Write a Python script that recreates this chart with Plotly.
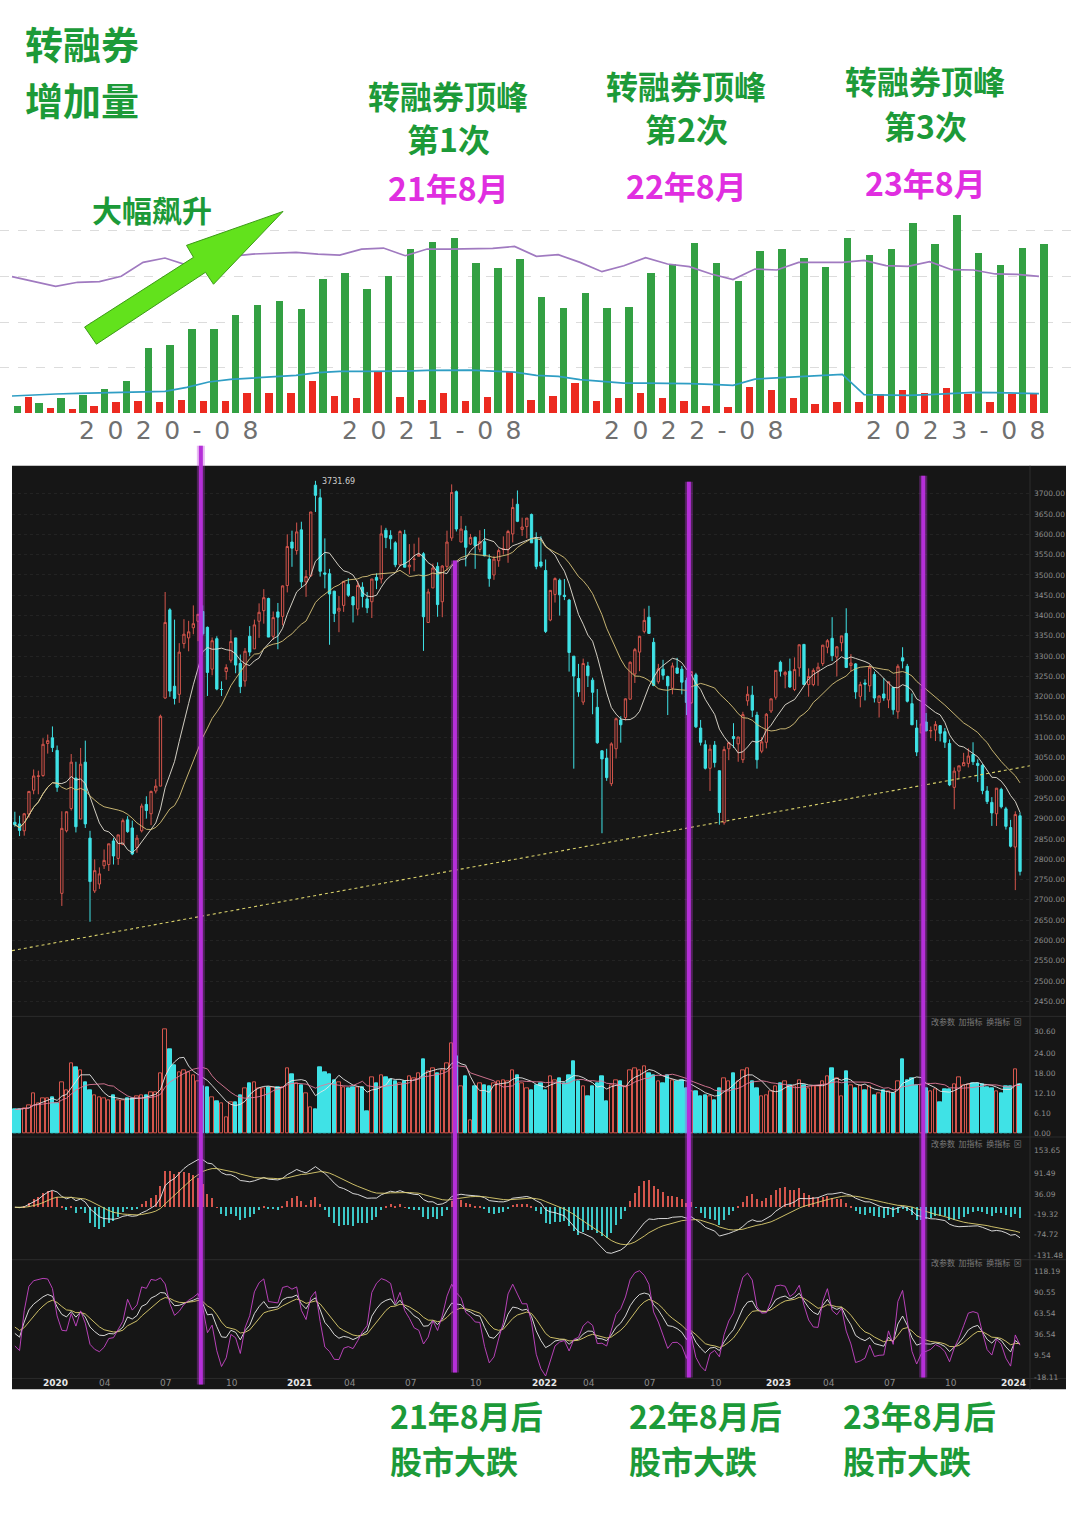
import numpy as np
import pandas as pd
import plotly.graph_objects as go

W, H = 1080, 1535

# ======================= top panel: monthly data (2020-01 .. 2023-12) =======================
top_months = [f"{y}-{m:02d}" for y in (2020, 2021, 2022, 2023) for m in range(1, 13)]
green_vals = [16.7, 21.8, 34.2, 40.0, 53.1, 70.5, 141.8, 149.1, 183.3, 183.3, 214.5, 236.4,
              245.8, 227.6, 292.4, 306.9, 271.3, 300.4, 358.5, 374.5, 384.0, 329.5, 317.8, 336.7,
              253.1, 230.5, 263.3, 229.1, 231.3, 306.9, 325.8, 373.1, 328.7, 288.7, 354.9, 360.0,
              340.4, 320.0, 383.3, 345.5, 360.0, 416.0, 370.9, 434.2, 351.3, 323.6, 361.5, 370.9]
red_vals = [None, 34.9, 10.9, 8.7, 16.0, 23.3, 26.9, 23.3, 29.1, 25.5, 26.9, 43.6,
            45.1, 45.1, 70.5, 38.5, 34.2, 93.1, 36.4, 29.1, 43.6, 26.9, 34.9, 90.9,
            29.1, 38.5, 66.9, 27.6, 32.7, 43.6, 32.7, 26.9, 16.7, 13.1, 58.2, 50.2,
            32.7, 20.4, 23.3, 23.3, 42.2, 50.9, 43.6, 54.5, 41.5, 24.0, 42.2, 42.2]
purple_vals = [299.6, 288.7, 278.5, 287.3, 288.7, 300.4, 330.9, 340.4, 325.1, 334.5, 344.0, 349.1,
               350.5, 352.7, 349.1, 346.9, 360.0, 362.2, 345.5, 360.0, 360.0, 360.0, 361.5, 365.8,
               344.0, 347.6, 330.9, 310.5, 323.6, 341.1, 327.3, 321.5, 305.5, 293.1, 316.4, 314.2,
               330.9, 330.9, 330.9, 335.3, 323.6, 322.2, 332.4, 314.9, 314.2, 305.5, 304.7, 300.4]
blue_vals = [38.5, 41.5, 42.9, 44.4, 45.1, 45.8, 47.3, 48.7, 57.5, 69.1, 74.9, 77.8,
             79.3, 83.6, 89.5, 92.4, 92.4, 92.4, 93.1, 94.5, 95.3, 95.3, 93.1, 90.9,
             83.6, 81.5, 74.2, 70.5, 66.9, 66.9, 66.9, 65.5, 64.0, 61.8, 75.6, 78.5,
             81.5, 83.6, 85.8, 41.5, 40.0, 40.0, 41.5, 43.6, 46.5, 45.8, 45.1, 43.6]
top_tick_labels = ["2020-08", "2021-08", "2022-08", "2023-08"]

# ======================= weekly K-line (SSE Composite) =======================
week_start = [
    "2019-11-18", "2019-11-25", "2019-12-02", "2019-12-09", "2019-12-16", "2019-12-23", "2019-12-30",
    "2020-01-06", "2020-01-13", "2020-01-20", "2020-02-03", "2020-02-10", "2020-02-17", "2020-02-24",
    "2020-03-02", "2020-03-09", "2020-03-16", "2020-03-23", "2020-03-30", "2020-04-06", "2020-04-13",
    "2020-04-20", "2020-04-27", "2020-05-04", "2020-05-11", "2020-05-18", "2020-05-25", "2020-06-01",
    "2020-06-08", "2020-06-15", "2020-06-22", "2020-06-29", "2020-07-06", "2020-07-13", "2020-07-20",
    "2020-07-27", "2020-08-03", "2020-08-10", "2020-08-17", "2020-08-24", "2020-08-31", "2020-09-07",
    "2020-09-14", "2020-09-21", "2020-09-28", "2020-10-05", "2020-10-12", "2020-10-19", "2020-10-26",
    "2020-11-02", "2020-11-09", "2020-11-16", "2020-11-23", "2020-11-30", "2020-12-07", "2020-12-14",
    "2020-12-21", "2020-12-28",
    "2021-01-04", "2021-01-11", "2021-01-18", "2021-01-25", "2021-02-01", "2021-02-08", "2021-02-15",
    "2021-02-22", "2021-03-01", "2021-03-08", "2021-03-15", "2021-03-22", "2021-03-29", "2021-04-05",
    "2021-04-12", "2021-04-19", "2021-04-26", "2021-05-03", "2021-05-10", "2021-05-17", "2021-05-24",
    "2021-05-31", "2021-06-07", "2021-06-14", "2021-06-21", "2021-06-28", "2021-07-05", "2021-07-12",
    "2021-07-19", "2021-07-26", "2021-08-02", "2021-08-09", "2021-08-16", "2021-08-23", "2021-08-30",
    "2021-09-06", "2021-09-13", "2021-09-20", "2021-09-27", "2021-10-04", "2021-10-11", "2021-10-18",
    "2021-10-25", "2021-11-01", "2021-11-08", "2021-11-15", "2021-11-22", "2021-11-29", "2021-12-06",
    "2021-12-13", "2021-12-20", "2021-12-27",
    "2022-01-03", "2022-01-10", "2022-01-17", "2022-01-24", "2022-02-07", "2022-02-14", "2022-02-21",
    "2022-02-28", "2022-03-07", "2022-03-14", "2022-03-21", "2022-03-28", "2022-04-04", "2022-04-11",
    "2022-04-18", "2022-04-25", "2022-05-02", "2022-05-09", "2022-05-16", "2022-05-23", "2022-05-30",
    "2022-06-06", "2022-06-13", "2022-06-20", "2022-06-27", "2022-07-04", "2022-07-11", "2022-07-18",
    "2022-07-25", "2022-08-01", "2022-08-08", "2022-08-15", "2022-08-22", "2022-08-29", "2022-09-05",
    "2022-09-12", "2022-09-19", "2022-09-26", "2022-10-10", "2022-10-17", "2022-10-24", "2022-10-31",
    "2022-11-07", "2022-11-14", "2022-11-21", "2022-11-28", "2022-12-05", "2022-12-12", "2022-12-19",
    "2022-12-26",
    "2023-01-02", "2023-01-09", "2023-01-16", "2023-01-30", "2023-02-06", "2023-02-13", "2023-02-20",
    "2023-02-27", "2023-03-06", "2023-03-13", "2023-03-20", "2023-03-27", "2023-04-03", "2023-04-10",
    "2023-04-17", "2023-04-24", "2023-05-01", "2023-05-08", "2023-05-15", "2023-05-22", "2023-05-29",
    "2023-06-05", "2023-06-12", "2023-06-19", "2023-06-26", "2023-07-03", "2023-07-10", "2023-07-17",
    "2023-07-24", "2023-07-31", "2023-08-07", "2023-08-14", "2023-08-21", "2023-08-28", "2023-09-04",
    "2023-09-11", "2023-09-18", "2023-09-25", "2023-10-09", "2023-10-16", "2023-10-23", "2023-10-30",
    "2023-11-06", "2023-11-13", "2023-11-20", "2023-11-27", "2023-12-04", "2023-12-11", "2023-12-18",
    "2023-12-25",
    "2024-01-01", "2024-01-08", "2024-01-15", "2024-01-22", "2024-01-29",
]

ohlc_rows = [
    # open, high, low, close
    (2891, 2917, 2880, 2885), (2887, 2907, 2857, 2871), (2870, 2914, 2858, 2912), (2911, 2968, 2902, 2967),
    (2970, 3021, 2960, 3005), (3004, 3018, 2960, 3005), (3006, 3098, 3003, 3083), (3085, 3107, 3060, 3092),
    (3099, 3127, 3064, 3075), (3068, 3080, 2966, 2977), (2716, 2918, 2685, 2876), (2870, 2918, 2866, 2917),
    (2925, 3059, 2920, 3039), (3000, 3040, 2866, 2880), (2899, 3074, 2899, 3034), (3039, 3092, 2877, 2887),
    (2852, 2870, 2646, 2745), (2722, 2800, 2717, 2772), (2739, 2780, 2727, 2764), (2784, 2824, 2776, 2797),
    (2787, 2838, 2771, 2838), (2845, 2852, 2787, 2808), (2802, 2860, 2786, 2860), (2836, 2900, 2835, 2895),
    (2897, 2906, 2865, 2868), (2877, 2895, 2810, 2813), (2829, 2860, 2816, 2852), (2870, 2937, 2866, 2931),
    (2935, 2955, 2900, 2920), (2912, 2969, 2884, 2967), (2968, 2997, 2962, 2980), (2980, 3156, 2980, 3152),
    (3197, 3458, 3195, 3383), (3414, 3418, 3200, 3214), (3226, 3390, 3181, 3196), (3206, 3332, 3185, 3310),
    (3331, 3391, 3319, 3354), (3345, 3387, 3312, 3360), (3370, 3425, 3354, 3380), (3386, 3404, 3337, 3403),
    (3410, 3425, 3350, 3355), (3371, 3373, 3202, 3260), (3268, 3346, 3253, 3338), (3343, 3349, 3216, 3219),
    (3218, 3238, 3202, 3218), (3262, 3280, 3242, 3272), (3290, 3365, 3284, 3336), (3345, 3345, 3258, 3278),
    (3282, 3304, 3209, 3225), (3239, 3320, 3225, 3312), (3349, 3374, 3300, 3310), (3318, 3390, 3318, 3377),
    (3386, 3430, 3345, 3408), (3412, 3465, 3380, 3444), (3442, 3444, 3347, 3347), (3349, 3410, 3340, 3395),
    (3409, 3431, 3317, 3396), (3398, 3474, 3376, 3473),
    (3474, 3600, 3457, 3570), (3581, 3609, 3520, 3566), (3560, 3629, 3550, 3606), (3611, 3631, 3469, 3483),
    (3483, 3512, 3446, 3496), (3498, 3655, 3495, 3655), (3721, 3731.69, 3655, 3696), (3690, 3712, 3496, 3509),
    (3505, 3590, 3467, 3502), (3503, 3515, 3328, 3453), (3460, 3461, 3384, 3405), (3411, 3448, 3359, 3418),
    (3425, 3484, 3409, 3484), (3477, 3492, 3446, 3450), (3446, 3448, 3383, 3426), (3416, 3486, 3400, 3474),
    (3470, 3482, 3420, 3447), (3441, 3458, 3406, 3419), (3434, 3490, 3394, 3490), (3494, 3504, 3465, 3487),
    (3490, 3622, 3479, 3601), (3610, 3616, 3566, 3592), (3597, 3610, 3563, 3589), (3579, 3583, 3519, 3525),
    (3525, 3610, 3521, 3607), (3600, 3611, 3519, 3519), (3520, 3576, 3502, 3524), (3538, 3577, 3509, 3539),
    (3546, 3592, 3546, 3550), (3552, 3556, 3313, 3397), (3383, 3466, 3382, 3458), (3468, 3528, 3468, 3517),
    (3521, 3531, 3397, 3427), (3434, 3524, 3396, 3522), (3521, 3609, 3511, 3581), (3591, 3723, 3584, 3703),
    (3705, 3708, 3607, 3613), (3581, 3645, 3581, 3613), (3609, 3621, 3521, 3568), (3576, 3601, 3574, 3592),
    (3593, 3594, 3515, 3572), (3563, 3610, 3556, 3582), (3582, 3613, 3546, 3547), (3539, 3551, 3471, 3491),
    (3500, 3547, 3488, 3539), (3535, 3565, 3520, 3560), (3563, 3595, 3550, 3564), (3562, 3611, 3530, 3607),
    (3601, 3688, 3580, 3666), (3674, 3708, 3630, 3632), (3612, 3641, 3596, 3618), (3619, 3640, 3590, 3640),
    (3649, 3651, 3579, 3579), (3589, 3605, 3514, 3521), (3532, 3595, 3518, 3522), (3511, 3538, 3357, 3361),
    (3389, 3462, 3386, 3462), (3452, 3494, 3432, 3491), (3487, 3491, 3400, 3451), (3450, 3490, 3438, 3447),
    (3438, 3441, 3262, 3309), (3300, 3300, 3023, 3251), (3245, 3281, 3200, 3212), (3187, 3294, 3180, 3282),
    (3276, 3286, 3224, 3252), (3241, 3247, 3157, 3211), (3174, 3219, 3084, 3087), (3067, 3068, 2864, 3047),
    (3049, 3072, 2993, 3001), (2986, 3088, 2980, 3084), (3072, 3149, 3048, 3146), (3143, 3152, 3087, 3131),
    (3149, 3196, 3142, 3195), (3194, 3287, 3194, 3285), (3256, 3320, 3234, 3316), (3310, 3350, 3263, 3349),
    (3361, 3417, 3356, 3388), (3396, 3424, 3356, 3356), (3334, 3345, 3226, 3228), (3237, 3281, 3232, 3269),
    (3268, 3291, 3242, 3253), (3250, 3252, 3155, 3227), (3221, 3284, 3206, 3276), (3271, 3296, 3257, 3258),
    (3268, 3276, 3206, 3236), (3240, 3247, 3155, 3186), (3185, 3263, 3183, 3262), (3254, 3259, 3123, 3126),
    (3123, 3143, 3080, 3088), (3082, 3093, 3021, 3024), (3024, 3082, 2968, 3071), (3081, 3091, 3026, 3038),
    (3018, 3018, 2885, 2915), (2890, 3078, 2885, 3070), (3072, 3089, 3044, 3087), (3102, 3135, 3074, 3097),
    (3084, 3101, 3040, 3101), (3045, 3163, 3037, 3156), (3190, 3226, 3178, 3206), (3204, 3227, 3150, 3167),
    (3155, 3163, 3023, 3045), (3066, 3101, 3061, 3089),
    (3088, 3160, 3073, 3157), (3165, 3195, 3160, 3195), (3199, 3265, 3193, 3265), (3285, 3289, 3250, 3263),
    (3254, 3264, 3221, 3260), (3263, 3294, 3222, 3224), (3218, 3297, 3214, 3267), (3271, 3329, 3250, 3328),
    (3329, 3330, 3230, 3230), (3230, 3270, 3200, 3250), (3230, 3270, 3226, 3265), (3263, 3284, 3227, 3273),
    (3282, 3328, 3276, 3327), (3322, 3342, 3307, 3338), (3344, 3396, 3288, 3301), (3298, 3325, 3250, 3323),
    (3333, 3350, 3312, 3350), (3356, 3418, 3272, 3272), (3277, 3305, 3263, 3283), (3281, 3283, 3195, 3212),
    (3201, 3237, 3174, 3230), (3234, 3243, 3191, 3231), (3227, 3279, 3212, 3273), (3255, 3262, 3186, 3197),
    (3186, 3203, 3149, 3202), (3207, 3246, 3190, 3197), (3192, 3237, 3172, 3237), (3223, 3225, 3156, 3168),
    (3163, 3280, 3146, 3275), (3296, 3322, 3270, 3288), (3275, 3281, 3186, 3189), (3183, 3208, 3131, 3131),
    (3123, 3143, 3054, 3064), (3111, 3219, 3111, 3133), (3138, 3160, 3115, 3116), (3116, 3127, 3098, 3117),
    (3118, 3140, 3091, 3132), (3129, 3130, 3090, 3110), (3114, 3123, 3074, 3088), (3085, 3095, 2980, 2983),
    (2977, 3026, 2923, 3017), (3017, 3030, 3000, 3030), (3030, 3062, 3030, 3038), (3036, 3073, 3026, 3054),
    (3058, 3088, 3032, 3040), (3036, 3046, 2990, 3031), (3031, 3035, 2960, 2969), (2968, 2980, 2936, 2942),
    (2940, 2953, 2882, 2914), (2912, 2975, 2882, 2975),
    (2972, 2976, 2925, 2929), (2924, 2929, 2873, 2881), (2878, 2897, 2829, 2832), (2830, 2918, 2724, 2910),
    (2907, 2915, 2760, 2770),
]
opens = [r[0] for r in ohlc_rows]
highs = [r[1] for r in ohlc_rows]
lows = [r[2] for r in ohlc_rows]
closes = [r[3] for r in ohlc_rows]

volumes = [  # 亿手
    7.2, 7.4, 7.6, 8.4, 11.9, 8.9, 10.4,
    10.4, 10.9, 9.0, 15.3, 12.9, 20.8, 19.8, 18.8, 15.3, 13.0, 11.4, 10.9, 10.4, 9.9, 11.4, 9.9, 9.9,
    10.4, 10.4, 11.0, 11.4, 11.4, 12.4, 12.4, 18.0, 31.2, 25.0, 20.3, 18.3, 18.8, 18.3, 17.3, 15.5,
    14.2, 13.9, 10.9, 9.7, 8.9, 5.0, 9.2, 9.2, 11.4, 13.4, 14.9, 15.3, 13.4, 13.4, 13.9, 13.9, 13.9, 13.9,
    19.5, 17.8, 14.9, 14.4, 12.0, 7.9, 7.4, 19.8, 18.3, 17.8, 15.8, 15.3, 13.9, 13.4, 13.9, 13.9, 13.9,
    6.7, 16.8, 14.9, 17.3, 16.8, 16.3, 15.5, 15.0,
    15.5, 17.0, 16.5, 18.0, 22.0, 18.5, 19.5, 18.0, 19.0, 21.0, 27.0, 23.0, 14.0, 17.0, 4.0, 14.0,
    15.0, 14.5, 14.0, 15.0, 15.5, 16.0, 15.5, 19.0, 17.5, 15.0, 13.5,
    13.0, 14.5, 15.0, 13.0, 17.0, 16.0, 16.5, 15.0, 17.5, 21.5, 15.5, 14.0, 11.0, 14.0, 15.0, 17.0,
    9.5, 14.5, 16.0, 15.5, 14.0, 19.0, 19.5, 19.0, 20.0, 18.0, 17.5, 15.5, 15.0, 17.5, 16.0, 15.5,
    16.0, 13.5, 12.5, 12.5, 11.0, 11.5, 11.0, 10.0, 13.5, 16.5, 15.5, 18.0, 15.5, 19.0, 19.5, 15.5,
    13.5, 11.0,
    11.5, 12.5, 14.0, 15.0, 15.5, 14.5, 14.0, 16.0, 14.5, 13.5, 14.0, 14.0, 15.5, 17.0, 19.5, 16.5,
    11.0, 18.5, 14.5, 13.5, 14.5, 13.0, 14.0, 11.5, 12.0, 13.0, 12.5, 12.0, 15.5, 22.0, 16.0, 16.5,
    14.5, 14.5, 13.5, 12.5, 13.3, 9.4, 13.3, 13.3, 14.8, 16.8, 14.3, 14.8, 15.0, 15.0, 14.6, 13.8,
    13.5, 12.5, 11.9, 14.1, 14.0, 19.3, 14.8,
]

# quarter labels on the bottom time axis: (week index, label)
bottom_ticks = [(6, "2020"), (18, "04"), (31, "07"), (45, "10"), (58, "2021"), (70, "04"), (83, "07"),
                (97, "10"), (110, "2022"), (121, "04"), (134, "07"), (148, "10"), (160, "2023"),
                (172, "04"), (185, "07"), (198, "10"), (210, "2024")]
# purple marker lines (week index) and hand-drawn support line (week index, price)
marker_weeks = [39.6, 93.7, 143.5, 193.4]
trend_weeks = [-0.6, 216.1]
trend_prices = [2575, 3030]

price_ticks = [2450 + 50 * k for k in range(26)]
vol_ticks = [0.0, 6.1, 12.1, 18.0, 24.0, 30.6]
macd_ticks = [153.65, 91.49, 36.09, -19.32, -74.72, -131.48]
kdj_ticks = [118.19, 90.55, 63.54, 36.54, 9.54, -18.11]

n = len(week_start)
assert len(ohlc_rows) == n and len(volumes) == n, (len(ohlc_rows), len(volumes), n)
idx = list(range(n))

# ======================= indicators =======================
c = pd.Series(closes, dtype=float)
hi = pd.Series(highs, dtype=float)
lo = pd.Series(lows, dtype=float)
ma10 = c.rolling(10, min_periods=1).mean()
ma20 = c.rolling(20, min_periods=1).mean()
v = pd.Series(volumes, dtype=float)
vma5 = v.rolling(5, min_periods=1).mean()
vma10 = v.rolling(10, min_periods=1).mean()
dif = c.ewm(span=12, adjust=False).mean() - c.ewm(span=26, adjust=False).mean()
dea = dif.ewm(span=9, adjust=False).mean()
hist = 2 * (dif - dea)
llv = lo.rolling(9, min_periods=1).min()
hhv = hi.rolling(9, min_periods=1).max()
rsv = ((c - llv) / (hhv - llv).replace(0, np.nan) * 100).fillna(50)
K, D = [], []
k_prev, d_prev = 50.0, 50.0
for r in rsv:
    k_prev = 2 / 3 * k_prev + r / 3
    d_prev = 2 / 3 * d_prev + k_prev / 3
    K.append(k_prev)
    D.append(d_prev)
K = np.array(K)
D = np.array(D)
J = 3 * K - 2 * D

# ======================= helpers / styles =======================
def px_x(p):
    return p / W


def px_y(p):
    return 1 - p / H


def rng(top_px, bot_px, ref_val, ref_px, ppu):
    return [ref_val + (ref_px - bot_px) / ppu, ref_val + (ref_px - top_px) / ppu]


BG = "#161616"
UP = "#d4554c"
DN = "#3fe2e6"
GREEN_TXT = "#1c9a38"
MAGENTA = "#e02ee0"
CJK = "Noto Sans CJK SC"

fig = go.Figure()

# ---------- top monthly chart ----------
mx = list(range(len(top_months)))
fig.add_trace(go.Bar(x=mx, y=red_vals, width=0.34, offset=-0.41, marker=dict(color="#ec2a20", line=dict(width=0)),
                     xaxis="x", yaxis="y", hoverinfo="skip"))
fig.add_trace(go.Bar(x=mx, y=green_vals, width=0.34, offset=0.07, marker=dict(color="#33a043", line=dict(width=0)),
                     xaxis="x", yaxis="y", hoverinfo="skip"))
fig.add_trace(go.Scatter(x=mx, y=purple_vals, mode="lines", line=dict(color="#a07ac0", width=1.7),
                         xaxis="x", yaxis="y", hoverinfo="skip"))
fig.add_trace(go.Scatter(x=mx, y=blue_vals, mode="lines", line=dict(color="#2f9ec4", width=1.7),
                         xaxis="x", yaxis="y", hoverinfo="skip"))

# ---------- candles ----------
fig.add_trace(go.Candlestick(x=idx, open=opens, high=highs, low=lows, close=closes,
                             increasing=dict(line=dict(color=UP, width=1), fillcolor=BG),
                             decreasing=dict(line=dict(color=DN, width=1), fillcolor=DN),
                             whiskerwidth=0, xaxis="x2", yaxis="y2", hoverinfo="skip"))
fig.add_trace(go.Scatter(x=idx, y=ma10, mode="lines", line=dict(color="#e6e2d6", width=0.9),
                         xaxis="x2", yaxis="y2", hoverinfo="skip"))
fig.add_trace(go.Scatter(x=idx, y=ma20, mode="lines", line=dict(color="#d9c47a", width=0.9),
                         xaxis="x2", yaxis="y2", hoverinfo="skip"))
fig.add_trace(go.Scatter(x=trend_weeks, y=trend_prices, mode="lines",
                         line=dict(color="#d8d06a", width=1.1, dash="dot"),
                         xaxis="x2", yaxis="y2", hoverinfo="skip"))

# ---------- volume ----------
up = [cl >= op for op, cl in zip(opens, closes)]
fig.add_trace(go.Bar(x=idx, y=volumes, width=0.72,
                     marker=dict(color=[BG if u else DN for u in up],
                                 line=dict(color=[UP if u else DN for u in up], width=1)),
                     xaxis="x3", yaxis="y3", hoverinfo="skip"))
fig.add_trace(go.Scatter(x=idx, y=vma5, mode="lines", line=dict(color="#e8e8e8", width=0.9),
                         xaxis="x3", yaxis="y3", hoverinfo="skip"))
fig.add_trace(go.Scatter(x=idx, y=vma10, mode="lines", line=dict(color="#e07a9a", width=0.9),
                         xaxis="x3", yaxis="y3", hoverinfo="skip"))

# ---------- MACD ----------
fig.add_trace(go.Bar(x=idx, y=hist, width=0.25,
                     marker=dict(color=[UP if h >= 0 else "#3cc8c8" for h in hist], line=dict(width=0)),
                     xaxis="x4", yaxis="y4", hoverinfo="skip"))
fig.add_trace(go.Scatter(x=idx, y=dif, mode="lines", line=dict(color="#ececec", width=0.9),
                         xaxis="x4", yaxis="y4", hoverinfo="skip"))
fig.add_trace(go.Scatter(x=idx, y=dea, mode="lines", line=dict(color="#e0d070", width=0.9),
                         xaxis="x4", yaxis="y4", hoverinfo="skip"))

# ---------- KDJ ----------
fig.add_trace(go.Scatter(x=idx, y=K, mode="lines", line=dict(color="#ececec", width=0.9),
                         xaxis="x5", yaxis="y5", hoverinfo="skip"))
fig.add_trace(go.Scatter(x=idx, y=D, mode="lines", line=dict(color="#e0d070", width=0.9),
                         xaxis="x5", yaxis="y5", hoverinfo="skip"))
fig.add_trace(go.Scatter(x=idx, y=J, mode="lines", line=dict(color="#c846c8", width=0.9),
                         xaxis="x5", yaxis="y5", hoverinfo="skip"))

# ======================= axes =======================
XD = [px_x(12), px_x(1030)]
xr = [-(14.85 - 12) / 4.697, -(14.85 - 12) / 4.697 + 1018 / 4.697]
mspace = 21.85
top_xr = [-12 / mspace, -12 / mspace + W / mspace]

dark_x = dict(domain=XD, range=xr, showticklabels=False, showgrid=False, zeroline=False,
              showline=False, ticks="", fixedrange=True)
tickfont = dict(family="DejaVu Sans", size=7.5, color="#8c8c8c")


def dark_y(dom, r, tv, tt, anchor, grid=True):
    return dict(domain=dom, range=r, side="right", anchor=anchor, tickvals=tv, ticktext=tt,
                tickfont=tickfont, ticks="", showgrid=grid, gridcolor="#232323", griddash="dot",
                gridwidth=1, zeroline=False, showline=False, fixedrange=True, ticklabelstandoff=3)


fig.update_layout(
    width=W, height=H, margin=dict(l=0, r=0, t=0, b=0),
    paper_bgcolor="white", plot_bgcolor="rgba(0,0,0,0)",
    showlegend=False, barmode="overlay", bargap=0,
    xaxis=dict(domain=[0, 1], range=top_xr, showticklabels=False, showgrid=False, zeroline=False,
               ticks="", fixedrange=True),
    yaxis=dict(domain=[px_y(414.7), px_y(200)], range=[0, 214.7 / 0.4583], tickvals=[100, 200, 300, 400],
               showticklabels=False, showgrid=True, gridcolor="#dcdcdc", griddash="dash", zeroline=False,
               ticks="", fixedrange=True),
    xaxis2=dict(dark_x, anchor="y2", rangeslider=dict(visible=False)),
    xaxis3=dict(dark_x, anchor="y3", matches="x2"),
    xaxis4=dict(dark_x, anchor="y4", matches="x2"),
    xaxis5=dict(dark_x, anchor="y5", matches="x2"),
    yaxis2=dark_y([px_y(1018), px_y(468)], rng(468, 1018, 3700, 495, 0.4072),
                  price_ticks, [f"{p:.2f}" for p in price_ticks], "x2"),
    yaxis3=dark_y([px_y(1138), px_y(1020)], rng(1020, 1138, 0, 1136.7, 3.37),
                  vol_ticks, [f"{t:.2f}" for t in vol_ticks], "x3", grid=False),
    yaxis4=dark_y([px_y(1262), px_y(1142)], rng(1142, 1262, 0, 1210.4, 0.37),
                  macd_ticks, [f"{t:.2f}" for t in macd_ticks], "x4", grid=False),
    yaxis5=dark_y([px_y(1381), px_y(1265)], rng(1265, 1381, 0, 1366.4, 0.78),
                  kdj_ticks, [f"{t:.2f}" for t in kdj_ticks], "x5", grid=False),
)

# ======================= shapes =======================
shapes = []
shapes.append(dict(type="rect", xref="paper", yref="paper", x0=px_x(12), x1=px_x(1066),
                   y0=px_y(1393), y1=px_y(467), fillcolor=BG, line=dict(width=0), layer="below"))
for yy in (1019, 1140, 1263, 1382):
    shapes.append(dict(type="line", xref="paper", yref="paper", x0=px_x(12), x1=px_x(1066),
                       y0=px_y(yy), y1=px_y(yy), line=dict(color="#2c2c2c", width=1), layer="below"))
shapes.append(dict(type="line", xref="paper", yref="paper", x0=px_x(1030), x1=px_x(1030),
                   y0=px_y(1393), y1=px_y(467), line=dict(color="#2c2c2c", width=1), layer="below"))
# purple marker lines
line_tops = [447, 562, 483, 477]
line_bots = [1388, 1376, 1381, 1381]
for wk, t, b in zip(marker_weeks, line_tops, line_bots):
    shapes.append(dict(type="line", xref="x2", yref="paper", x0=wk, x1=wk, y0=px_y(b), y1=px_y(t),
                       line=dict(color="rgba(190,60,220,0.35)", width=8), layer="above"))
    shapes.append(dict(type="line", xref="x2", yref="paper", x0=wk, x1=wk, y0=px_y(b), y1=px_y(t),
                       line=dict(color="#b52fd8", width=4), layer="above"))

# green arrow (decoration)
arrow_pts = [(84.6, 327.9), (193.5, 258.0), (186.5, 246.0), (283, 212), (213.5, 285.0),
             (205.5, 273.0), (96.4, 345.1)]
path = "M " + " L ".join(f"{px_x(x):.5f},{px_y(y):.5f}" for x, y in arrow_pts) + " Z"
shapes.append(dict(type="path", xref="paper", yref="paper", path=path, fillcolor="#62e21c",
                   line=dict(color="#3c9a18", width=1), layer="above"))
fig.update_layout(shapes=shapes)

# ======================= annotations =======================
ann = []


def txt(text, x, y, size, color, xanchor="center", family=CJK, bold=True, align="center"):
    t = f"<b>{text}</b>" if bold else text
    ann.append(dict(text=t, x=px_x(x), y=px_y(y), xref="paper", yref="paper", xanchor=xanchor,
                    yanchor="middle", showarrow=False, align=align,
                    font=dict(family=family, size=size, color=color)))


txt("转融券", 23, 43, 38, GREEN_TXT, "left")
txt("增加量", 23, 99, 38, GREEN_TXT, "left")
txt("大幅飙升", 152, 210, 30, GREEN_TXT)
peaks = [(448, 95, 138, 187, "第1次", "21年8月"),
         (686, 85, 128, 185, "第2次", "22年8月"),
         (925, 80, 125, 182, "第3次", "23年8月")]
for cx, y1, y2, y3, t2, t3 in peaks:
    txt("转融券顶峰", cx, y1, 32, GREEN_TXT)
    txt(t2, cx, y2, 32, GREEN_TXT)
    txt(t3, cx, y3, 32, MAGENTA)
for lx, t in ((388, "21年8月后"), (627, "22年8月后"), (841, "23年8月后")):
    txt(t, lx, 1419, 32, GREEN_TXT, "left")
    txt("股市大跌", lx, 1464, 32, GREEN_TXT, "left")

# top chart month labels
for lab in top_tick_labels:
    k = top_months.index(lab)
    ann.append(dict(text="\u2002".join(lab), x=k, y=px_y(432), xref="x", yref="paper", xanchor="center",
                    yanchor="middle", xshift=4, showarrow=False,
                    font=dict(family="DejaVu Sans", size=25, color="#707070")))

# bottom time axis
for wk, lab in bottom_ticks:
    is_year = len(lab) == 4
    ann.append(dict(text=f"<b>{lab}</b>" if is_year else lab, x=wk, y=px_y(1387), xref="x5", yref="paper",
                    xanchor="left", yanchor="middle", xshift=-2, showarrow=False,
                    font=dict(family="DejaVu Sans", size=9, color="#e8e8e8" if is_year else "#8a8a8a")))

# peak label
pk = int(np.argmax(highs))
ann.append(dict(text=f"{highs[pk]:.2f}", x=pk, y=highs[pk], xref="x2", yref="y2", xanchor="left",
                yanchor="middle", xshift=5, yshift=-1, showarrow=False,
                font=dict(family="DejaVu Sans", size=8, color="#cfcfcf")))

# indicator toolbars
for yy in (1024, 1146, 1266):
    ann.append(dict(text="改参数  加指标  换指标  ⊠", x=px_x(1024), y=px_y(yy), xref="paper", yref="paper",
                    xanchor="right", yanchor="middle", showarrow=False,
                    font=dict(family=CJK, size=8, color="#7a7a7a")))

fig.update_layout(annotations=ann)
fig.write_html("out.html")
